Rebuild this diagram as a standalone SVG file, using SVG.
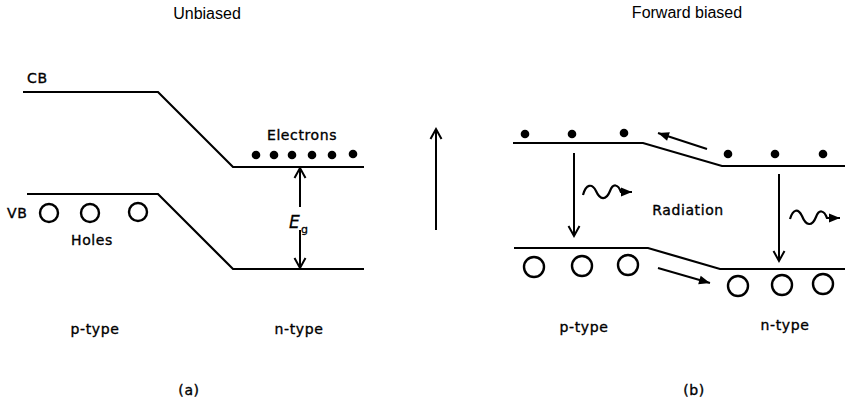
<svg xmlns="http://www.w3.org/2000/svg" width="845" height="406" viewBox="0 0 845 406">
<defs>
<style>
.t{font-family:"DejaVu Sans",sans-serif;font-size:14px;letter-spacing:0.6px;fill:#000;stroke:#000;stroke-width:0.35px}
.ti{font-family:"Liberation Sans",Arial,sans-serif;font-size:16px;fill:#000}
.band{fill:none;stroke:#000;stroke-width:2.2}
.ln{fill:none;stroke:#000;stroke-width:2}
.wave{fill:none;stroke:#000;stroke-width:2.2}
.hole{fill:#fff;stroke:#000;stroke-width:2.4}
.e{fill:#000}
</style>
<marker id="chev" markerUnits="userSpaceOnUse" markerWidth="16" markerHeight="16" viewBox="-12 -8 14 16" refX="0" refY="0" orient="auto">
<path d="M-10,-5.5 L0,0 L-10,5.5" fill="none" stroke="#000" stroke-width="2"/>
</marker>
<marker id="tri" markerUnits="userSpaceOnUse" markerWidth="16" markerHeight="16" viewBox="-12 -8 14 16" refX="0" refY="0" orient="auto">
<path d="M-11,-4.5 L0,0 L-11,4.5 Z" fill="#000"/>
</marker>
</defs>
<rect width="845" height="406" fill="#fff"/>

<g id="titles">
<text class="ti" x="207" y="19" text-anchor="middle">Unbiased</text>
<text class="ti" x="687" y="18" text-anchor="middle">Forward biased</text>
</g>

<g id="unbiased-cb">
<path class="band" d="M23,92 H158 L233,167 H364"/>
<text class="t" x="27" y="83">CB</text>
</g>
<g id="unbiased-vb">
<path class="band" d="M27,194 H158 L233,269 H364"/>
<text class="t" x="7" y="218">VB</text>
</g>
<g id="electrons-a">
<text class="t" x="302" y="140" text-anchor="middle">Electrons</text>
<circle class="e" cx="256" cy="155" r="4.3"/>
<circle class="e" cx="274" cy="155" r="4.3"/>
<circle class="e" cx="292" cy="155" r="4.3"/>
<circle class="e" cx="312" cy="155" r="4.3"/>
<circle class="e" cx="332" cy="155" r="4.3"/>
<circle class="e" cx="353" cy="154" r="4.3"/>
</g>
<g id="holes-a">
<circle class="hole" cx="49" cy="213" r="9"/>
<circle class="hole" cx="90" cy="213" r="9"/>
<circle class="hole" cx="138" cy="212" r="9"/>
<text class="t" x="92" y="245" text-anchor="middle">Holes</text>
</g>
<g id="eg-label">
<text x="289" y="228" font-family="DejaVu Sans,sans-serif" font-size="17" font-style="italic" stroke="#000" stroke-width="0.3">E</text>
<text x="301" y="233" font-family="DejaVu Sans,sans-serif" font-size="11" stroke="#000" stroke-width="0.3">g</text>
</g>
<g id="labels">
<text class="t" x="95" y="334" text-anchor="middle">p-type</text>
<text class="t" x="299" y="334" text-anchor="middle">n-type</text>
<text class="t" x="584" y="332" text-anchor="middle">p-type</text>
<text class="t" x="785" y="330" text-anchor="middle">n-type</text>
<text class="t" x="189" y="395" text-anchor="middle">(a)</text>
<text class="t" x="694" y="395" text-anchor="middle">(b)</text>
<text class="t" x="688" y="215" text-anchor="middle">Radiation</text>
</g>

<g id="fb-cb">
<path class="band" d="M513,143 H643 L722,166 H845"/>
</g>
<g id="fb-vb">
<path class="band" d="M514,248 H648 L720,269 H845"/>
</g>
<g id="electrons-b">
<circle class="e" cx="525" cy="134" r="4.3"/>
<circle class="e" cx="572" cy="134" r="4.3"/>
<circle class="e" cx="624" cy="133" r="4.3"/>
<circle class="e" cx="728" cy="154" r="4.3"/>
<circle class="e" cx="775" cy="154" r="4.3"/>
<circle class="e" cx="823" cy="154" r="4.3"/>
</g>
<g id="holes-b">
<circle class="hole" cx="534" cy="267" r="10"/>
<circle class="hole" cx="582" cy="266" r="10"/>
<circle class="hole" cx="628" cy="265" r="10"/>
<circle class="hole" cx="738" cy="286" r="10"/>
<circle class="hole" cx="782" cy="285" r="10"/>
<circle class="hole" cx="823" cy="284" r="10"/>
</g>

<g id="connectors">
<path class="ln" d="M300,207 V168" marker-end="url(#chev)"/>
<path class="ln" d="M300,230 V268" marker-end="url(#chev)"/>
<path class="ln" d="M436,230 V129" marker-end="url(#chev)"/>
<path class="ln" d="M574,153 V236" marker-end="url(#chev)"/>
<path class="ln" d="M779,174 V261" marker-end="url(#chev)"/>
<path class="ln" d="M707,149 L658,133" marker-end="url(#tri)"/>
<path class="ln" d="M658,268 L710,283" marker-end="url(#tri)"/>
<path class="wave" d="M583,195 C586,184 592,183 596,191 C600,200 606,201 610,191 C613,183 618,184 621,192 L632,192" marker-end="url(#tri)"/>
<path class="wave" d="M790,219 C793,209 798,208 802,216 C806,226 812,227 816,217 C819,209 824,210 827,218 L840,218" marker-end="url(#tri)"/>
</g>
</svg>
